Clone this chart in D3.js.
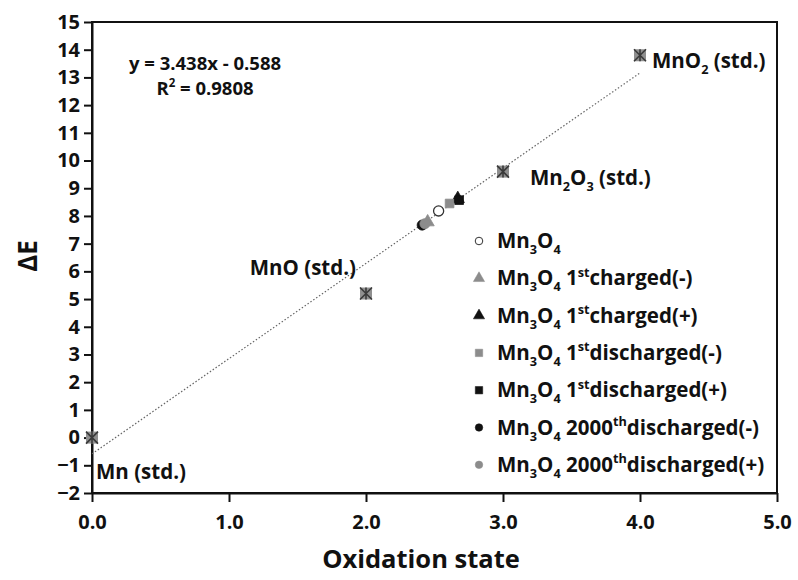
<!DOCTYPE html>
<html>
<head>
<meta charset="utf-8">
<script src="https://cdn.jsdelivr.net/npm/d3@7"></script>
<style>
  body { margin: 0; background: #fff; }
  svg text { font-family: "Open Sans", "Noto Sans", sans-serif; font-weight: bold; fill: #111; }
</style>
</head>
<body>
<script>
// data
var stdNames = ["Mn (std.)", "MnO (std.)", "Mn2O3 (std.)", "MnO2 (std.)"];
var stdOx = [0, 2, 3, 4];
var stdDE = [0, 5.2, 9.6, 13.8];

var sampleNames = ["Mn3O4", "Mn3O4 1stcharged(-)", "Mn3O4 1stcharged(+)", "Mn3O4 1stdischarged(-)",
                   "Mn3O4 1stdischarged(+)", "Mn3O4 2000thdischarged(-)", "Mn3O4 2000thdischarged(+)"];
var sampleOx = [2.53, 2.45, 2.67, 2.61, 2.68, 2.41, 2.43];
var sampleDE = [8.18, 7.78, 8.62, 8.45, 8.57, 7.67, 7.72];

var fitSlope = 3.438, fitIntercept = -0.588, fitR2 = 0.9808;
var fitRange = [0, 4];

var xTicks = [0, 1, 2, 3, 4, 5];
var yTicks = d3.range(-2, 16);

//set up
var W = 798, H = 580;
var m = {l: 92, r: 21, t: 22, b: 87};
var svg = d3.select("body").append("svg").attr("width", W).attr("height", H);

var x = d3.scaleLinear().domain([0, 5]).range([m.l, W - m.r]);
var y = d3.scaleLinear().domain([-2, 15]).range([H - m.b, m.t]);

// text with sub / superscripts: parts like ["Mn", ["3","sub"], ...]
function richText(sel, parts, size) {
    var back = 0;
    parts.forEach(function(p) {
        if (typeof p === "string") {
            sel.append("tspan").attr("dy", back).text(p);
            back = 0;
        } else {
            var shift = p[1] === "sub" ? size * 0.3 : -size * 0.42;
            sel.append("tspan").attr("dy", shift + back).attr("font-size", size * 0.62).text(p[0]);
            back = -shift;
        }
    });
}
function formula(name) {
    // "Mn3O4 1stcharged(-)" -> ["Mn",["3","sub"],"O",["4","sub"]," 1",["st","sup"],"charged(-)"]
    var out = [];
    var tokens = name.split(/(Mn\d|O\d|\d+st|\d+th)/).filter(function(s) { return s !== ""; });
    tokens.forEach(function(t) {
        var a = t.match(/^(Mn|O)(\d)$/), b = t.match(/^(\d+)(st|th)$/);
        if (a) { out.push(a[1]); out.push([a[2], "sub"]); }
        else if (b) { out.push(b[1]); out.push([b[2], "sup"]); }
        else out.push(t);
    });
    return out;
}

// frame
svg.append("rect").attr("x", m.l).attr("y", m.t)
    .attr("width", W - m.r - m.l).attr("height", H - m.b - m.t)
    .attr("fill", "none").attr("stroke", "#111").attr("stroke-width", 2);

// axes
var gx = svg.append("g").attr("transform", "translate(0," + y(-2) + ")")
    .call(d3.axisBottom(x).tickValues(xTicks).tickFormat(d3.format(".1f")).tickSize(9).tickSizeOuter(0));
var gy = svg.append("g").attr("transform", "translate(" + x(0) + ",0)")
    .call(d3.axisLeft(y).tickValues(yTicks).tickFormat(d3.format("d")).tickSize(8).tickSizeOuter(0));
[gx, gy].forEach(function(g) {
    g.select(".domain").attr("stroke", "#111").attr("stroke-width", 2);
    g.selectAll(".tick line").attr("stroke", "#111").attr("stroke-width", 2);
    g.selectAll(".tick text").attr("fill", "#111").attr("font-size", 20)
        .attr("font-family", "Open Sans").attr("font-weight", "bold");
});
gx.selectAll(".tick text").attr("dy", "1.2em");
gy.selectAll(".tick text").attr("x", -12);

svg.append("text").attr("x", 421).attr("y", 568).attr("text-anchor", "middle")
    .attr("font-size", 25.5).text("Oxidation state");
svg.append("text").attr("transform", "translate(37," + 256 + ") rotate(-90)")
    .attr("text-anchor", "middle").attr("font-size", 26).text("\u0394E");

// trendline
svg.append("line")
    .attr("x1", x(fitRange[0])).attr("y1", y(fitSlope * fitRange[0] + fitIntercept))
    .attr("x2", x(fitRange[1])).attr("y2", y(fitSlope * fitRange[1] + fitIntercept))
    .attr("stroke", "#666").attr("stroke-width", 1.2).attr("stroke-dasharray", "1.5,2");

var eq = svg.append("text").attr("x", 205).attr("y", 70).attr("text-anchor", "middle").attr("font-size", 18.5);
eq.text("y = " + fitSlope.toFixed(3) + "x - " + Math.abs(fitIntercept).toFixed(3));
var r2 = svg.append("text").attr("x", 205).attr("y", 95).attr("text-anchor", "middle").attr("font-size", 18.5);
richText(r2, ["R", ["2", "sup"], " = " + fitR2], 18.5);

// standards: gray square with an X
var stdG = svg.append("g").selectAll("g").data(stdOx).enter().append("g")
    .attr("transform", function(d, i) { return "translate(" + x(d) + "," + y(stdDE[i]) + ")"; });
stdG.append("rect").attr("x", -6).attr("y", -6).attr("width", 12).attr("height", 12)
    .attr("fill", "#8f8f8f");
stdG.append("path").attr("d", "M-6,-6L6,6M6,-6L-6,6M0,-6L0,6")
    .attr("stroke", "#3a3a3a").attr("stroke-width", 1.6);

// standard labels, offsets from their marker
var stdLab = [
    {dx: 4, dy: 41, anchor: "start"},
    {dx: -10, dy: -19, anchor: "end"},
    {dx: 27, dy: 13, anchor: "start"},
    {dx: 12, dy: 13, anchor: "start"}
];
stdNames.forEach(function(n, i) {
    var t = svg.append("text").attr("x", x(stdOx[i]) + stdLab[i].dx).attr("y", y(stdDE[i]) + stdLab[i].dy)
        .attr("text-anchor", stdLab[i].anchor).attr("font-size", 20.5);
    richText(t, formula(n), 20.5);
});

// sample symbols
var symType = ["circle", "triangle", "triangle", "square", "square", "circle", "circle"];
var symFill = ["#fff", "#8c8c8c", "#111", "#8c8c8c", "#111", "#111", "#8c8c8c"];
var symStroke = ["#333", "#8c8c8c", "#111", "#8c8c8c", "#111", "#111", "#8c8c8c"];
function sym(i, s) {
    var t = symType[i] === "circle" ? d3.symbolCircle : symType[i] === "triangle" ? d3.symbolTriangle : d3.symbolSquare;
    return d3.symbol().type(t).size(s)();
}
svg.append("g").selectAll("path").data(sampleOx).enter().append("path")
    .attr("transform", function(d, i) { return "translate(" + x(d) + "," + y(sampleDE[i]) + ")"; })
    .attr("d", function(d, i) { return sym(i, symType[i] === "circle" ? 80 : 75); })
    .attr("fill", function(d, i) { return symFill[i]; })
    .attr("stroke", function(d, i) { return symStroke[i]; })
    .attr("stroke-width", function(d, i) { return i === 0 ? 1.3 : 0.8; });

// legend
var leg = svg.append("g").attr("transform", "translate(479,241)");
sampleNames.forEach(function(n, i) {
    var row = leg.append("g").attr("transform", "translate(0," + (i * 37.3) + ")");
    row.append("path").attr("d", sym(i, symType[i] === "circle" ? 45 : 55))
        .attr("fill", symFill[i]).attr("stroke", symStroke[i]).attr("stroke-width", i === 0 ? 1 : 0.5);
    var t = row.append("text").attr("x", 18).attr("y", 7).attr("font-size", 20.5);
    richText(t, formula(n), 20.5);
});
</script>
</body>
</html>
